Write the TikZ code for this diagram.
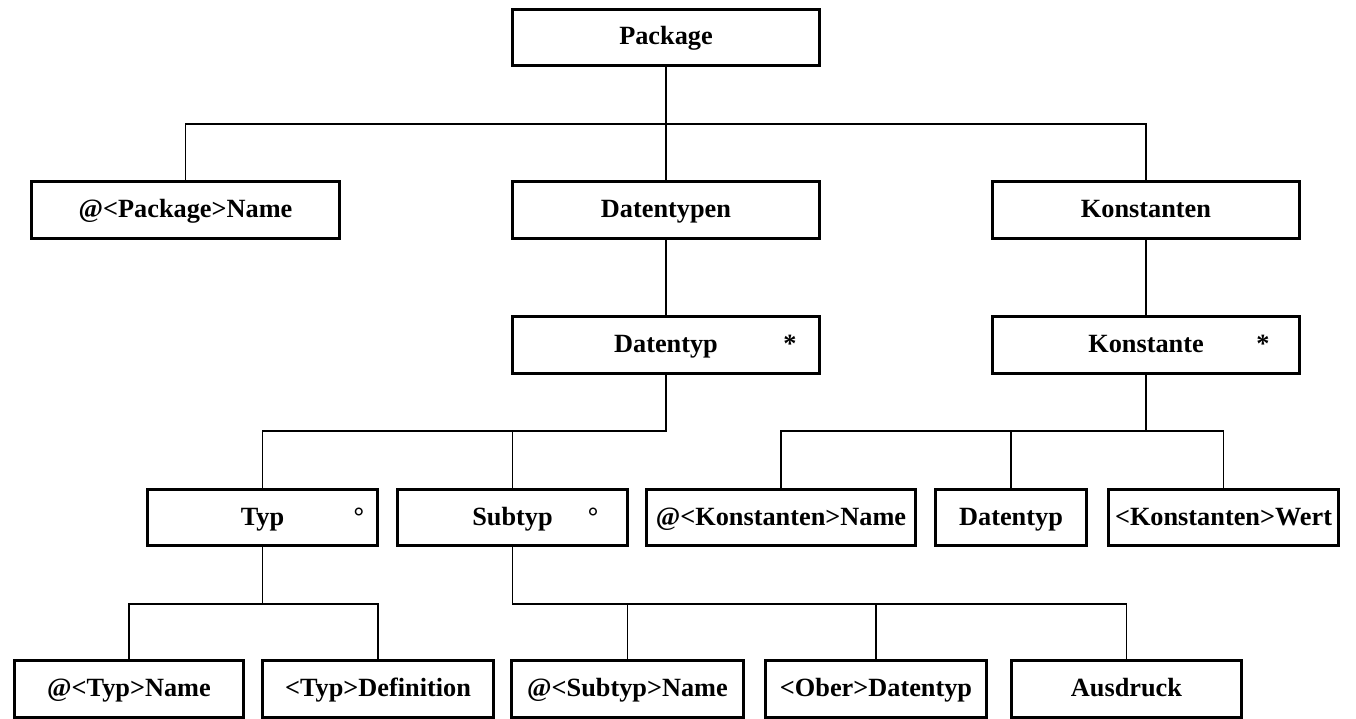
\documentclass[tikz,border=0pt]{standalone}
\usepackage{fontspec}
\setmainfont{Liberation Serif}
\begin{document}
\begin{tikzpicture}[x=1pt,y=-1pt,
  box/.style={draw, line width=3.3pt, fill=white, inner sep=0pt,
    minimum height=56.5pt, text height=18pt, text depth=3pt,
    font=\fontsize{26.3pt}{30pt}\selectfont\bfseries},
  flag/.style={anchor=base, inner sep=0pt,
    font=\fontsize{26.3pt}{30pt}\selectfont\bfseries},
  conn/.style={line width=1.4pt}]
\useasboundingbox (0,0) rectangle (1356,719);

% level 0
\node[box, minimum width=306.7pt] (pkg) at (666,37.5) {Package};

% level 1
\node[box, minimum width=307.7pt] (pname)  at (185.5,210) {@<Package>Name\hspace{12pt}};
\node[box, minimum width=306.7pt] (dtypen) at (666,210)   {Datentypen};
\node[box, minimum width=306.7pt] (konst)  at (1146,210)  {Konstanten};

% level 2
\node[box, minimum width=306.7pt] (dtyp)   at (666,345)   {Datentyp\hspace{14pt}};
\node[box, minimum width=306.7pt] (konste) at (1146,345)  {Konstante\hspace{14pt}};
\node[flag] (dtyp-m)   at (790,352.5)  {*};
\node[flag] (konste-m) at (1263,352.5) {*};

% level 3
\node[box, minimum width=229.7pt] (typ)    at (262.5,517.5) {Typ\hspace{10pt}};
\node[box, minimum width=229.7pt] (subtyp) at (512.5,517.5) {Subtyp\hspace{27pt}};
\node[flag] (typ-m)    at (359,525) {°};
\node[flag] (subtyp-m) at (593,525) {°};
\node[box, minimum width=268.7pt] (kname) at (781,517.5)    {@<Konstanten>Name};
\node[box, minimum width=150.7pt] (kdtyp) at (1011,517.5)   {Datentyp};
\node[box, minimum width=229.7pt] (kwert) at (1223.5,517.5) {<Konstanten>Wert};

% level 4
\node[box, minimum width=228.7pt] (tname) at (129,689)    {@<Typ>Name};
\node[box, minimum width=230.7pt] (tdef)  at (378,689)    {<Typ>Definition};
\node[box, minimum width=231.7pt] (sname) at (627.5,689)  {@<Subtyp>Name};
\node[box, minimum width=220.7pt] (ober)  at (876,689)    {<Ober>Datentyp};
\node[box, minimum width=229.7pt] (ausd)  at (1126.5,689) {Ausdruck};

% branching points
\coordinate (b1) at (666,124);
\coordinate (b2) at (666,431);
\coordinate (b3) at (1146,431);
\coordinate (b4) at (262.5,604);
\coordinate (b5) at (512.5,604);

% connectors
\draw[conn] (pkg) -- (dtypen);
\draw[conn] (pname.north) |- (b1) -| (konst.north);

\draw[conn] (dtypen) -- (dtyp);
\draw[conn] (konst) -- (konste);

\draw[conn] (dtyp.south) -- (b2) -| (typ.north);
\draw[conn] (subtyp.north) -- (subtyp.north |- b2);

\draw[conn] (konste.south) -- (b3);
\draw[conn] (kname.north) |- (b3) -| (kwert.north);
\draw[conn] (kdtyp.north) -- (kdtyp.north |- b3);

\draw[conn] (typ.south) -- (b4);
\draw[conn] (tname.north) |- (b4) -| (tdef.north);

\draw[conn] (subtyp.south) -- (b5) -| (ausd.north);
\draw[conn] (sname.north) -- (sname.north |- b5);
\draw[conn] (ober.north) -- (ober.north |- b5);
\end{tikzpicture}
\end{document}
